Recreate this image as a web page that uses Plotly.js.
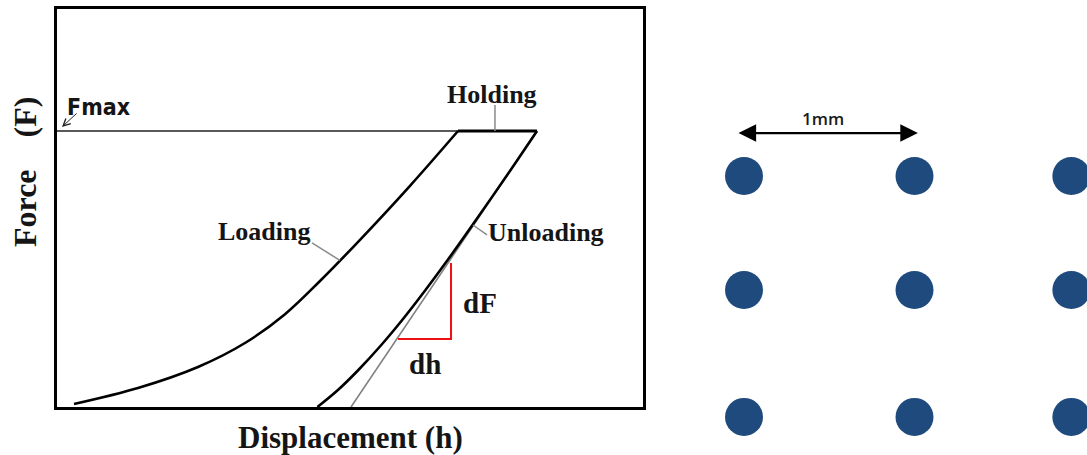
<!DOCTYPE html>
<html>
<head>
<meta charset="utf-8">
<script src="https://cdn.plot.ly/plotly-3.0.1.min.js"></script>
<style>
html,body{margin:0;padding:0;background:#fff;}
#chart{width:1087px;height:455px;}
</style>
</head>
<body>
<div id="chart"></div>
<script>
// ---- Load–displacement schematic (arbitrary units, 0–100) ----
const loadingH   = [2.90, 13.82, 24.06, 32.08, 38.91, 44.88, 51.71, 60.24, 68.43];
const loadingF   = [0.75, 4.77, 10.05, 16.08, 23.32, 31.66, 42.01, 55.58, 69.35];
const holdingH   = [68.43, 81.91];
const holdingF   = [69.35, 69.35];
const unloadingH = [81.91, 77.41, 70.90, 67.03, 62.88, 58.91, 55.34, 51.43, 47.94, 44.44];
const unloadingF = [69.35, 59.55, 45.73, 37.69, 29.40, 21.86, 15.58, 9.30, 4.27, 0.00];
const tangentH   = [81.91, 50.17];
const tangentF   = [69.35, 0.00];
const fmaxH      = [0, 68.43];
const fmaxF      = [69.35, 69.35];
const slopeH     = [58.19, 67.24, 67.24];
const slopeF     = [17.09, 17.09, 36.18];
// leader lines for labels
const leadHoldingH   = [74.74, 74.74];
const leadHoldingF   = [75.88, 69.35];
const leadLoadingH   = [43.52, 48.29];
const leadLoadingF   = [41.21, 36.83];
const leadUnloadingH = [73.38, 70.99];
const leadUnloadingF = [43.22, 45.73];

// ---- Indentation grid (mm) ----
const gridX = [0, 1, 1.92, 0, 1, 1.92, 0, 1, 1.92];
const gridY = [0, 0, 0, -0.669, -0.669, -0.669, -1.413, -1.413, -1.413];
const scaleBarX = [-0.041, 1.02];
const scaleBarY = 0.252;
const scaleBarLabel = '1mm';

const serif = 'Liberation Serif, Times New Roman, serif';
const txt = '#151515';

const traces = [
  {x: fmaxH, y: fmaxF, mode:'lines', line:{color:'#222', width:1.5}, hoverinfo:'skip'},
  {x: tangentH, y: tangentF, mode:'lines', line:{color:'#808080', width:1.6}, hoverinfo:'skip'},
  {x: loadingH, y: loadingF, mode:'lines', line:{color:'#000', width:2.6, shape:'spline', smoothing:1}, hoverinfo:'skip'},
  {x: unloadingH, y: unloadingF, mode:'lines', line:{color:'#000', width:2.6, shape:'spline', smoothing:1}, hoverinfo:'skip'},
  {x: holdingH, y: holdingF, mode:'lines', line:{color:'#000', width:3}, hoverinfo:'skip'},
  {x: slopeH, y: slopeF, mode:'lines', line:{color:'#ee1111', width:2}, hoverinfo:'skip'},
  {x: leadHoldingH, y: leadHoldingF, mode:'lines', line:{color:'#8a8a8a', width:1.5}, hoverinfo:'skip'},
  {x: leadLoadingH, y: leadLoadingF, mode:'lines', line:{color:'#8a8a8a', width:1.5}, hoverinfo:'skip'},
  {x: leadUnloadingH, y: leadUnloadingF, mode:'lines', line:{color:'#8a8a8a', width:1.5}, hoverinfo:'skip'},
  {x: gridX, y: gridY, xaxis:'x2', yaxis:'y2', mode:'markers', cliponaxis:false,
   marker:{size:38, color:'#1f4a7e', line:{width:0}}, hoverinfo:'skip'}
];

const lbl = (text, x, y, size) => ({text, x, y, xref:'x', yref:'y', showarrow:false,
  font:{family:serif, size, color:txt, weight:'bold'}, xanchor:'center', yanchor:'middle'});

const annotations = [
  lbl('Holding', 74.23, 78.40, 26),
  lbl('Loading', 35.49, 44.22, 26),
  lbl('Unloading', 83.45, 43.97, 26),
  lbl('dF', 72.18, 26.13, 29),
  lbl('dh', 62.80, 10.80, 29),
  {text:'Fmax', x:7.2, y:75.4, xref:'x', yref:'y', showarrow:false,
   font:{family:'DejaVu Sans Condensed, Liberation Sans Narrow, Liberation Sans, sans-serif', size:23, color:txt, weight:'bold'}},
  {text:'', x:0.85, y:70.35, ax:3.6, ay:74.12, xref:'x', yref:'y', axref:'x', ayref:'y',
   showarrow:true, arrowhead:5, arrowsize:1.4, arrowwidth:1, arrowcolor:'#222'},
  {text:'Displacement (h)', x:350/1087, y:(455-437)/455, xref:'paper', yref:'paper', showarrow:false,
   font:{family:serif, size:31, color:txt, weight:'bold'}, xanchor:'center', yanchor:'middle'},
  {text:'Force\u00a0\u00a0\u00a0\u00a0(F)', x:25/1087, y:(455-172)/455, xref:'paper', yref:'paper', showarrow:false, textangle:-90,
   font:{family:serif, size:32, color:txt, weight:'bold'}, xanchor:'center', yanchor:'middle'},
  {text:'', x:scaleBarX[1], y:scaleBarY, ax:scaleBarX[0], ay:scaleBarY, xref:'x2', yref:'y2', axref:'x2', ayref:'y2',
   showarrow:true, arrowhead:2, arrowside:'end+start', arrowsize:1.6, arrowwidth:2.2, arrowcolor:'#000'},
  {text:scaleBarLabel, x:0.463, y:0.34, xref:'x2', yref:'y2', showarrow:false,
   font:{family:'Open Sans, DejaVu Sans, sans-serif', size:17, color:'#1a1a1a', weight:600}}
];

const layout = {
  width:1087, height:455,
  margin:{l:0, r:0, t:0, b:0},
  paper_bgcolor:'#fff', plot_bgcolor:'rgba(0,0,0,0)',
  showlegend:false,
  xaxis:{domain:[57/1087, 643/1087], range:[0,100], showline:true, mirror:true, linewidth:3, linecolor:'#000',
         showgrid:false, zeroline:false, showticklabels:false, ticks:'', fixedrange:true},
  yaxis:{domain:[(455-407)/455, (455-9)/455], range:[0,100], showline:true, mirror:true, linewidth:3, linecolor:'#000',
         showgrid:false, zeroline:false, showticklabels:false, ticks:'', fixedrange:true},
  xaxis2:{domain:[660/1087, 1], range:[(660-744)/170.5, (1087-744)/170.5], visible:false, anchor:'y2', fixedrange:true},
  yaxis2:{domain:[0, (455-90)/455], range:[(176-455)/170.5, (176-90)/170.5], visible:false, anchor:'x2', fixedrange:true},
  annotations
};

Plotly.newPlot('chart', traces, layout, {staticPlot:true, displayModeBar:false});
</script>
</body>
</html>
